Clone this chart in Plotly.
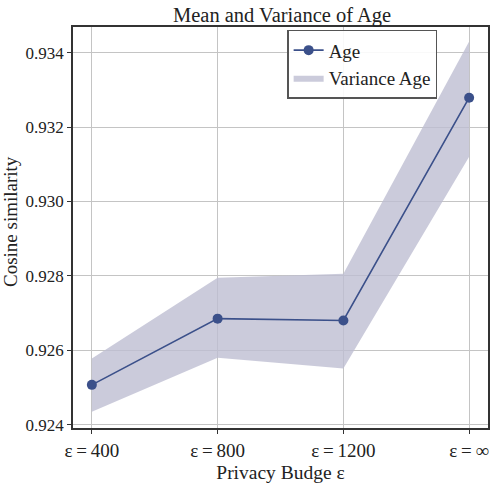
import plotly.graph_objects as go

# Privacy budgets on the x axis
budgets = ["ε\u2009=\u2009400", "ε\u2009=\u2009800", "ε\u2009=\u20091200", "ε\u2009=\u2009∞"]

# Mean cosine similarity for Age and its variance band
age_mean = [0.92507, 0.92685, 0.92680, 0.93279]
age_upper = [0.92578, 0.92795, 0.92806, 0.93430]
age_lower = [0.92435, 0.92580, 0.92551, 0.93120]

y_ticks = [0.924, 0.926, 0.928, 0.930, 0.932, 0.934]

LINE = "rgb(59,80,138)"
BAND = "rgba(190,190,210,0.8)"
FONT = "Liberation Serif"

fig = go.Figure()

# variance band: upper edge, then lower edge filled up to it
fig.add_trace(go.Scatter(
    x=budgets, y=age_upper, mode="lines",
    line=dict(width=0, color=BAND),
    showlegend=False, hoverinfo="skip",
))
fig.add_trace(go.Scatter(
    x=budgets, y=age_lower, mode="lines",
    line=dict(width=0, color=BAND),
    fill="tonexty", fillcolor=BAND,
    name="Variance Age", legendrank=2,
))
# mean line on top of the band
fig.add_trace(go.Scatter(
    x=budgets, y=age_mean, mode="lines+markers",
    line=dict(color=LINE, width=1.6),
    marker=dict(color=LINE, size=10),
    name="Age", legendrank=1,
))

axis_common = dict(
    showline=True, linecolor="#333333", linewidth=1.5, mirror=True,
    showgrid=True, gridcolor="#c4c4c4", gridwidth=1,
    ticks="outside", ticklen=4, tickcolor="#333333",
    zeroline=False,
)

fig.update_layout(
    width=494, height=484,
    margin=dict(l=73, r=4, t=27, b=50),
    paper_bgcolor="white", plot_bgcolor="white",
    font=dict(family=FONT, color="#222222"),
    title=dict(text="Mean and Variance of Age", x=0.571, xanchor="center",
               y=0.969, yanchor="middle",
               font=dict(family=FONT, size=20.5, color="#222222")),
    xaxis=dict(
        axis_common, range=[-0.15, 3.15],
        tickfont=dict(family=FONT, size=19, color="#222222"),
        title=dict(text="Privacy Budge ε", font=dict(family=FONT, size=19.5),
                   standoff=6),
    ),
    yaxis=dict(
        axis_common, range=[0.92391, 0.93469],
        tickfont=dict(family=FONT, size=17, color="#222222"),
        tickvals=y_ticks, ticktext=[f"{v:.3f}" for v in y_ticks],
    ),
    annotations=[dict(
        text="Cosine similarity", textangle=-90,
        xref="paper", yref="paper", x=-0.152, y=0.516,
        xanchor="center", yanchor="middle", showarrow=False,
        font=dict(family=FONT, size=19, color="#222222"),
    )],
    legend=dict(
        x=0.516, y=0.993, xanchor="left", yanchor="top",
        traceorder="normal",
        bgcolor="rgba(255,255,255,0.9)", bordercolor="#555555", borderwidth=1.5,
        font=dict(family=FONT, size=19, color="#222222"),
        tracegroupgap=0, itemwidth=30,
    ),
)

fig.write_html("out.html")
